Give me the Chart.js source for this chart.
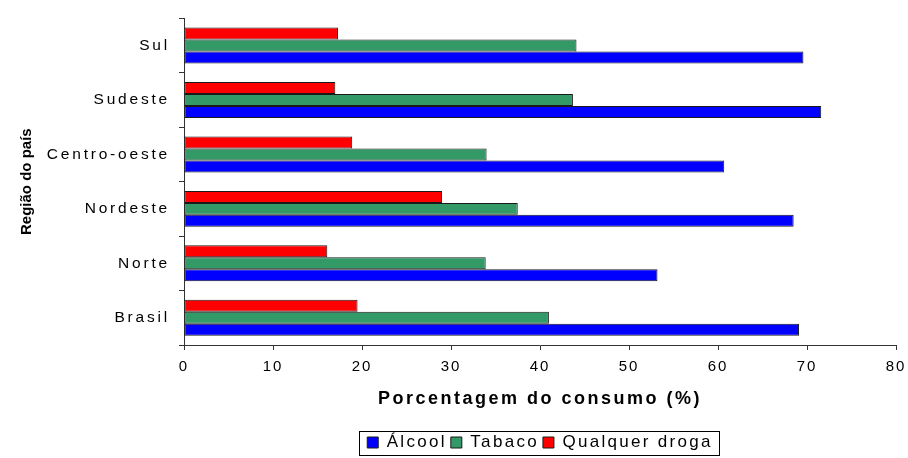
<!DOCTYPE html>
<html>
<head>
<meta charset="utf-8">
<script src="https://cdn.jsdelivr.net/npm/chart.js@4.4.0/dist/chart.umd.min.js"></script>
<style>
  html, body { margin: 0; padding: 0; background: #ffffff; }
  #wrap { width: 908px; height: 458px; }
</style>
</head>
<body>
<div id="wrap"><canvas id="c" width="908" height="458"></canvas></div>
<script>
// ---- data ----
const categories = ['Sul', 'Sudeste', 'Centro-oeste', 'Nordeste', 'Norte', 'Brasil'];
const alcool   = [69.6, 71.6, 60.7, 68.5, 53.2, 69.1];
const tabaco   = [44.1, 43.7, 34.0, 37.5, 33.9, 41.0];
const qualquer = [17.3, 17.0, 18.9, 29.0, 16.1, 19.5];
const seriesNames = ['Álcool', 'Tabaco', 'Qualquer droga'];
const xTicks = [0, 10, 20, 30, 40, 50, 60, 70, 80];
const xTitle = 'Porcentagem do consumo (%)';
const yTitle = 'Região do país';

// ---- letter spacing per font (styling only) ----
function spacingFor(font) {
  const m = /(\d+(?:\.\d+)?)px/.exec(font);
  const size = m ? parseFloat(m[1]) : 12;
  const bold = /bold/.test(font);
  if (bold && size >= 17) return 2.5;   // x axis title
  if (bold) return 0;                   // y axis title
  if (size === 15.5) return 2.8;        // category labels
  if (size === 15) return 2;            // value ticks
  if (size === 17) return 2.3;          // legend
  return 0;
}
const canvas = document.getElementById('c');
const ctx = canvas.getContext('2d');
const fontDesc = Object.getOwnPropertyDescriptor(CanvasRenderingContext2D.prototype, 'font');
Object.defineProperty(ctx, 'font', {
  configurable: true,
  get() { return fontDesc.get.call(this); },
  set(v) { fontDesc.set.call(this, v); this.letterSpacing = spacingFor(v) + 'px'; }
});

const legendBox = {
  id: 'legendBox',
  afterDraw(chart) {
    const hb = chart.legend && chart.legend.legendHitBoxes;
    if (!hb || !hb.length) return;
    const c = chart.ctx;
    const left = Math.min(...hb.map(b => b.left)) - 8;
    const right = Math.max(...hb.map(b => b.left + b.width)) + 6;
    const cy = hb[0].top + hb[0].height / 2;
    c.save();
    c.strokeStyle = '#000000';
    c.lineWidth = 1;
    c.strokeRect(Math.round(left) + 0.5, Math.round(cy - 12) + 0.5, Math.round(right - left), 24);
    c.restore();
  }
};

const FAM = "'Liberation Sans', Arial, sans-serif";
const mk = (label, data, color) => ({
  label, data, backgroundColor: color, borderColor: '#1a1a1a', borderWidth: 1,
  borderSkipped: false, categoryPercentage: 0.66, barPercentage: 1.0
});

new Chart(canvas, {
  type: 'bar',
  data: {
    labels: categories,
    // drawn top-to-bottom inside each group: red, green, blue
    datasets: [
      mk(seriesNames[2], qualquer, '#ff0000'),
      mk(seriesNames[1], tabaco, '#339966'),
      mk(seriesNames[0], alcool, '#0000ff')
    ]
  },
  options: {
    indexAxis: 'y',
    responsive: false,
    animation: false,
    devicePixelRatio: 1,
    layout: { padding: { top: 15, right: 12, left: 0, bottom: -3 } },
    scales: {
      x: {
        min: 0, max: 80,
        afterBuildTicks: s => { s.ticks = xTicks.map(v => ({ value: v })); },
        afterFit: s => { s.height = 85; s.paddingLeft = 0; s.paddingRight = 0; },
        grid: { display: true, drawOnChartArea: false, drawTicks: true, tickLength: 5, color: '#333333' },
        border: { display: true, color: '#333333', width: 1 },
        ticks: { color: '#000000', padding: 8, font: { family: FAM, size: 15 } },
        title: { display: true, text: xTitle, color: '#000000',
                 font: { family: FAM, size: 18, weight: 'bold' }, padding: { top: 0, bottom: 20 } }
      },
      y: {
        afterFit: s => { s.width = 184; },
        grid: { display: true, drawOnChartArea: false, drawTicks: true, tickLength: 5, color: '#333333', offset: true },
        border: { display: true, color: '#333333', width: 1 },
        ticks: { color: '#000000', padding: 9, font: { family: FAM, size: 15.5 } },
        title: { display: true, text: yTitle, color: '#000000',
                 font: { family: FAM, size: 15, weight: 'bold' }, padding: { top: 18, bottom: 0 } }
      }
    },
    plugins: {
      legend: {
        display: true, position: 'bottom', fullSize: false, reverse: true,
        labels: { boxWidth: 11, boxHeight: 11, padding: 4, color: '#000000',
                  font: { family: FAM, size: 17 } }
      },
      tooltip: { enabled: false },
      title: { display: false }
    }
  },
  plugins: [legendBox]
});
</script>
</body>
</html>
